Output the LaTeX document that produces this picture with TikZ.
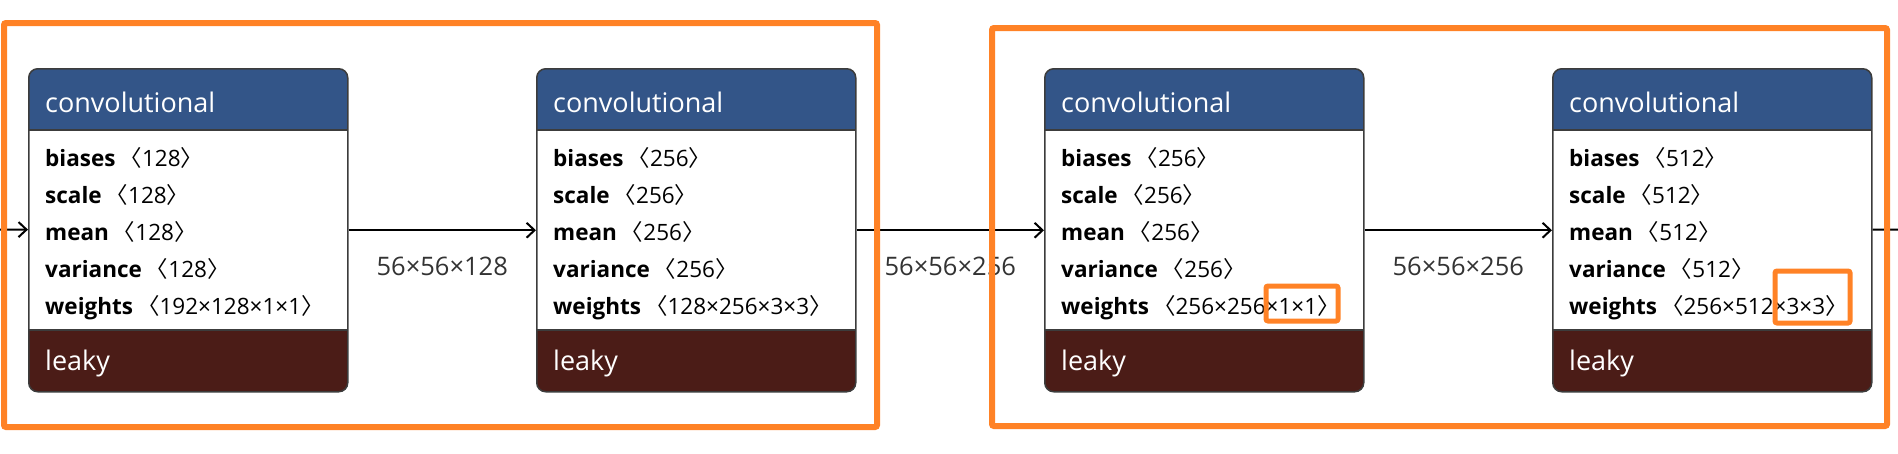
\documentclass[tikz,border=0pt]{standalone}
\usepackage{fontspec}
\usepackage{tikz}
\usepackage{xcolor}
\usetikzlibrary{arrows.meta}

\setmainfont{Open Sans}
\newfontfamily\cjk{Noto Sans CJK SC}

\definecolor{convblue}{RGB}{51,85,136}
\definecolor{leakybrown}{RGB}{75,28,23}
\definecolor{boxgray}{RGB}{60,60,60}
\definecolor{markorange}{RGB}{255,130,38}

% angle brackets round a tensor shape
\newcommand{\shp}[1]{\hspace{4pt}{\cjk 〈}#1{\cjk 〉}}

\tikzset{
    layer/.style={draw=boxgray, line width=1.5pt, rounded corners=9pt,
        anchor=north west, inner sep=0pt,
        minimum width=319pt, minimum height=323pt,
        path picture={
            \fill[convblue, sharp corners] (path picture bounding box.north west)
                rectangle ([yshift=-61pt]path picture bounding box.north east);
            \fill[leakybrown, sharp corners] ([yshift=62pt]path picture bounding box.south west)
                rectangle (path picture bounding box.south east);
            \draw[boxgray, line width=1.5pt, sharp corners]
                ([yshift=-61pt]path picture bounding box.north west)
                -- ([yshift=-61pt]path picture bounding box.north east);
            \draw[boxgray, line width=1.5pt, sharp corners]
                ([yshift=62pt]path picture bounding box.south west)
                -- ([yshift=62pt]path picture bounding box.south east);
        }},
    title/.style={anchor=base west, inner sep=0pt, text=white,
        font=\fontsize{27}{31}\selectfont},
    row/.style={anchor=base west, inner sep=0pt, text=black,
        font=\fontsize{22.5}{27}\selectfont},
    flow/.style={line width=2pt, -{Straight Barb[length=8pt, width=15pt, line width=2pt]}},
    size/.style={midway, yshift=-36pt, text=black!80,
        font=\fontsize{25.5}{29}\selectfont},
    highlight/.style={draw=markorange, line width=6pt, rounded corners=2pt},
}

\begin{document}
\begin{tikzpicture}[x=1pt, y=-1pt]
\useasboundingbox (0,0) rectangle (1898,453);

    % layers
    \node[layer] (conv1) at (28,68) {};
    \node[layer] (conv2) at (536,68) {};
    \node[layer] (conv3) at (1044,68) {};
    \node[layer] (conv4) at (1552,68) {};

    % first layer
    \node[title] (conv1-name) at (45,112) {convolutional};
    \node[row] (conv1-biases) at (45,166) {\textbf{biases}\shp{128}};
    \node[row] (conv1-scale) at (45,203) {\textbf{scale}\shp{128}};
    \node[row] (conv1-mean) at (45,240) {\textbf{mean}\shp{128}};
    \node[row] (conv1-var) at (45,277) {\textbf{variance}\shp{128}};
    \node[row] (conv1-w) at (45,314) {\textbf{weights}\shp{192×128×1×1}};
    \node[title] (conv1-act) at (45,370) {leaky};

    % second layer
    \node[title] (conv2-name) at (553,112) {convolutional};
    \node[row] (conv2-biases) at (553,166) {\textbf{biases}\shp{256}};
    \node[row] (conv2-scale) at (553,203) {\textbf{scale}\shp{256}};
    \node[row] (conv2-mean) at (553,240) {\textbf{mean}\shp{256}};
    \node[row] (conv2-var) at (553,277) {\textbf{variance}\shp{256}};
    \node[row] (conv2-w) at (553,314) {\textbf{weights}\shp{128×256×3×3}};
    \node[title] (conv2-act) at (553,370) {leaky};

    % third layer
    \node[title] (conv3-name) at (1061,112) {convolutional};
    \node[row] (conv3-biases) at (1061,166) {\textbf{biases}\shp{256}};
    \node[row] (conv3-scale) at (1061,203) {\textbf{scale}\shp{256}};
    \node[row] (conv3-mean) at (1061,240) {\textbf{mean}\shp{256}};
    \node[row] (conv3-var) at (1061,277) {\textbf{variance}\shp{256}};
    \node[row] (conv3-w) at (1061,314) {\textbf{weights}\shp{256×256×1×1}};
    \node[title] (conv3-act) at (1061,370) {leaky};

    % fourth layer
    \node[title] (conv4-name) at (1569,112) {convolutional};
    \node[row] (conv4-biases) at (1569,166) {\textbf{biases}\shp{512}};
    \node[row] (conv4-scale) at (1569,203) {\textbf{scale}\shp{512}};
    \node[row] (conv4-mean) at (1569,240) {\textbf{mean}\shp{512}};
    \node[row] (conv4-var) at (1569,277) {\textbf{variance}\shp{512}};
    \node[row] (conv4-w) at (1569,314) {\textbf{weights}\shp{256×512×3×3}};
    \node[title] (conv4-act) at (1569,370) {leaky};

    % connections
    \coordinate (src) at (0,229.5);
    \coordinate (dst) at (1898,229.5);
    \draw[flow] (src) -- (conv1);
    \draw[flow] (conv1) -- (conv2) node[size] (size12) {56×56×128};
    \draw[flow] (conv2) -- (conv3) node[size] (size23) {56×56×256};
    \draw[flow] (conv3) -- (conv4) node[size] (size34) {56×56×256};
    \draw[line width=2pt] (conv4) -- (dst);

    % highlights
    \draw[highlight] (4,23) rectangle (877,427);
    \draw[highlight] (992,28) rectangle (1887,426);
    \draw[highlight, line width=5pt] (1266,286) rectangle (1338,321);
    \draw[highlight, line width=5pt] (1775,271) rectangle (1850,323);

\end{tikzpicture}
\end{document}
